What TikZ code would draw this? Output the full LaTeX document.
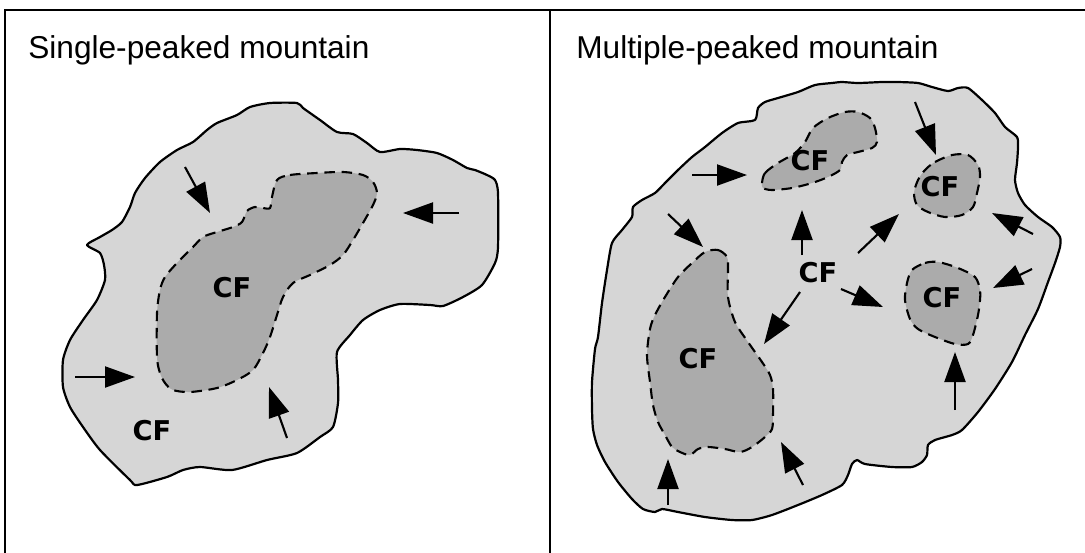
\documentclass[tikz,border=0pt]{standalone}
\usepackage{fontspec}
\setmainfont{Liberation Sans}
\newfontfamily\cffont{DejaVu Sans}
\usetikzlibrary{arrows.meta}

\definecolor{zonegray}{gray}{0.84}
\definecolor{peakgray}{gray}{0.67}

\tikzset{
  zone/.style={draw, line width=1.25pt, fill=zonegray, line join=round},
  peak/.style={draw, line width=1.2pt, fill=peakgray, dash pattern=on 6pt off 3.8pt},
  cf/.style={font=\cffont\bfseries\fontsize{15.5}{15.5}\selectfont, inner sep=0pt},
  title/.style={font=\fontsize{18}{18}\selectfont, anchor=base west, inner sep=0pt},
  flow/.style={line width=1.2pt, -{Triangle[length=0.6cm,width=0.42cm]}}
}

\begin{document}
\begin{tikzpicture}[x=0.02cm,y=-0.02cm]
\useasboundingbox (0,0) rectangle (1085,552);
\clip (0,0) rectangle (1085,552);

\draw[line width=1.6pt] (5,560) -- (5,10) -- (1090,10);
\draw[line width=1.6pt] (550,10) -- (550,560);

\node[title] (TL) at (28,58) {Single-peaked mountain};
\node[title] (TR) at (576,58) {Multiple-peaked mountain};

\draw[zone] plot[smooth cycle, tension=0.4] coordinates {
  (87,245) (100,237) (112,230) (122,222) (130,207) (135,193) (145,178) (160,162)
  (177,150) (193,142) (207,130) (217,123) (237,115) (250,107) (270,103) (297,103)
  (303,108) (320,120) (337,132) (353,134) (367,143) (380,152) (400,149) (417,150)
  (437,153) (453,160) (467,168) (475,170) (487,175) (495,180) (498,193) (498,247)
  (495,263) (482,285) (463,297) (443,306) (430,305) (400,304) (380,310) (363,320)
  (350,335) (337,352) (338,380) (338,403) (333,427) (320,437) (297,453) (267,460)
  (232,470) (200,467) (183,470) (167,477) (137,485) (130,480) (100,450) (83,427)
  (70,407) (63,387) (63,360) (70,340) (83,320) (97,300) (105,280) (104,265) (100,253)};

\draw[peak] plot[smooth cycle, tension=0.5] coordinates {
  (277,180) (290,175) (317,173) (343,172) (363,175) (373,182) (377,193) (373,205)
  (363,223) (353,240) (343,255) (330,265) (310,275) (293,283) (283,297) (277,315)
  (270,337) (263,353) (253,370) (237,380) (217,388) (190,392) (173,390) (165,383)
  (160,373) (157,357) (157,313) (160,290) (165,277) (177,263) (193,247) (203,237)
  (217,232) (233,227) (242,222) (247,211) (255,207) (263,208) (270,208) (272,197)};

\node[cf] (CL1) at (232,288) {CF};
\node[cf] (CL2) at (152,431) {CF};

\draw[flow] (185,167) -- (210,213);
\draw[flow] (459,213) -- (403,213);
\draw[flow] (75,377) -- (135,377);
\draw[flow] (287,438) -- (269,387);

\draw[zone] plot[smooth cycle, tension=0.4] coordinates {
  (758,108) (765,102) (778,98) (798,92) (815,85) (832,83) (842,82) (858,83)
  (882,82) (898,82) (918,83) (932,87) (948,91) (958,88) (968,88) (982,100)
  (995,113) (1005,127) (1017,137) (1018,147) (1017,163) (1015,180) (1018,193)
  (1025,205) (1038,217) (1052,227) (1060,237) (1060,247) (1055,263) (1048,282)
  (1038,309) (1025,335) (1012,362) (995,389) (978,412) (962,430) (952,435)
  (935,440) (928,445) (927,455) (922,462) (912,467) (892,467) (865,464) (857,460)
  (852,464) (848,475) (842,485) (822,495) (798,505) (772,515) (752,520) (732,520)
  (705,517) (678,512) (662,509) (655,512) (643,509) (632,499) (618,482) (605,462)
  (597,445) (593,429) (592,409) (592,382) (595,349) (598,337) (602,303) (607,270)
  (612,243) (622,230) (632,217) (633,207) (642,200) (655,193) (665,183) (678,170)
  (692,157) (705,147) (722,133) (738,123) (755,120)};

\draw[peak] plot[smooth cycle, tension=0.5] coordinates {
  (762,183) (765,173) (778,163) (795,153) (805,142) (813,128) (828,118) (845,112)
  (858,112) (870,118) (875,128) (877,142) (872,148) (858,152) (847,155) (842,162)
  (840,170) (828,177) (812,183) (792,188) (772,190) (763,188)};
\draw[peak] plot[smooth cycle, tension=0.5] coordinates {
  (925,170) (935,162) (952,155) (968,155) (978,165) (980,177) (977,193) (973,207)
  (962,215) (945,217) (928,212) (917,205) (914,193) (918,180)};
\draw[peak] plot[smooth cycle, tension=0.5] coordinates {
  (912,270) (925,263) (938,262) (958,268) (975,277) (980,290) (980,300) (978,315)
  (973,335) (968,344) (955,344) (935,337) (918,329) (910,319) (905,300) (907,283)};
\draw[peak] plot[smooth cycle, tension=0.5] coordinates {
  (705,252) (718,250) (727,257) (728,270) (728,297) (735,322) (748,342) (762,362)
  (770,375) (773,389) (773,415) (772,429) (765,437) (752,447) (740,452) (725,449)
  (708,447) (698,449) (690,455) (680,452) (672,447) (665,435) (658,422) (653,405)
  (650,382) (647,355) (650,329) (655,315) (665,297) (678,277) (692,263)};

\node[cf] (CR1) at (810,161) {CF};
\node[cf] (CR2) at (940,187) {CF};
\node[cf] (CR3) at (818,273) {CF};
\node[cf] (CR4) at (942,298) {CF};
\node[cf] (CR5) at (698,359) {CF};

\draw[flow] (692,175) -- (747,175);
\draw[flow] (915,102) -- (936,155);
\draw[flow] (668,214) -- (703,247);
\draw[flow] (802,255) -- (802,210);
\draw[flow] (858,253) -- (899,214);
\draw[flow] (841,289) -- (883,307);
\draw[flow] (800,292) -- (764,344);
\draw[flow] (1033,234) -- (992,213);
\draw[flow] (1032,269) -- (993,288);
\draw[flow] (955,410) -- (955,352);
\draw[flow] (668,505) -- (668,459);
\draw[flow] (803,485) -- (781,442);

\end{tikzpicture}
\end{document}
